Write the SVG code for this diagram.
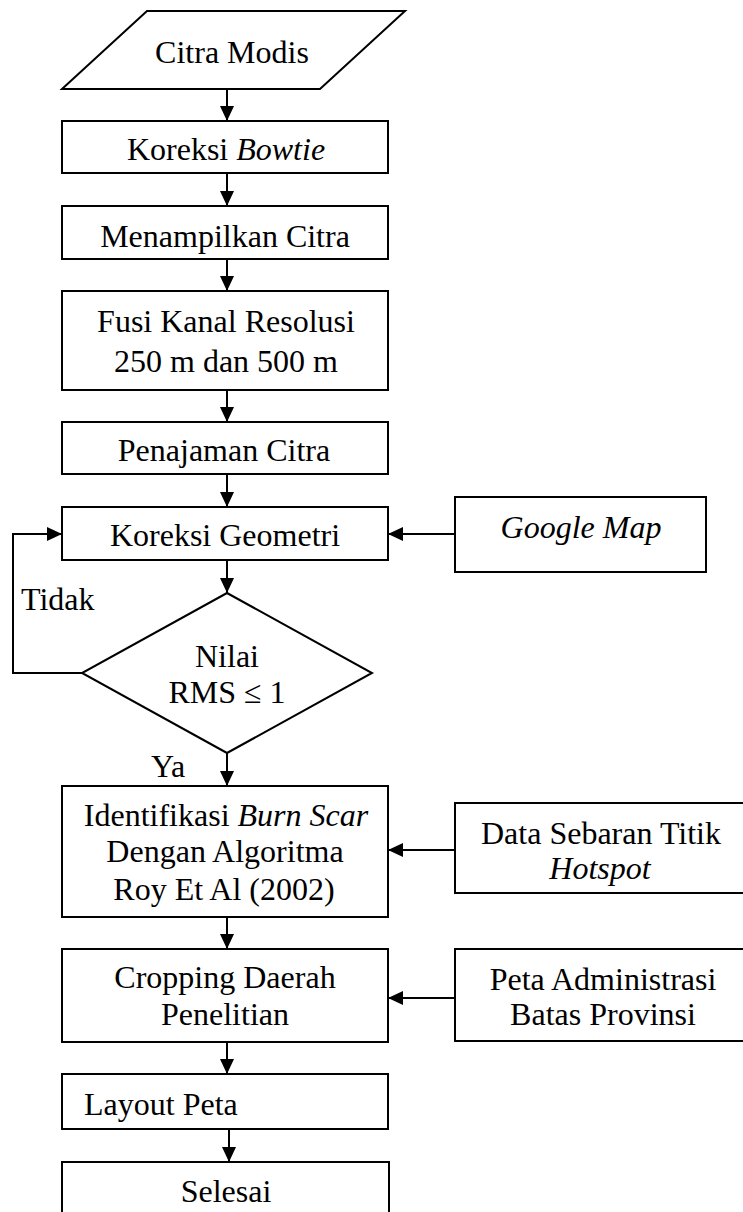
<svg xmlns="http://www.w3.org/2000/svg" width="743" height="1212" viewBox="0 0 743 1212">
<style>
.s{fill:#fff;stroke:#000;stroke-width:2}
.t{font-family:"Liberation Serif","Times New Roman",serif;font-size:32px;fill:#000;text-anchor:middle}
.l{text-anchor:start}
.i{font-style:italic}
.c{fill:none;stroke:#000;stroke-width:2}
</style>
<defs>
<marker id="ah" markerUnits="userSpaceOnUse" markerWidth="16" markerHeight="14" refX="15" refY="7" orient="auto">
<path d="M0,0 L15,7 L0,14 z" fill="#000"/>
</marker>
</defs>
<rect width="743" height="1212" fill="#fff"/>
<g id="connectors">
<line class="c" x1="227" y1="89" x2="227" y2="121" marker-end="url(#ah)"/>
<line class="c" x1="227" y1="173" x2="227" y2="206" marker-end="url(#ah)"/>
<line class="c" x1="227" y1="259" x2="227" y2="291" marker-end="url(#ah)"/>
<line class="c" x1="227" y1="390" x2="227" y2="422" marker-end="url(#ah)"/>
<line class="c" x1="227" y1="474" x2="227" y2="507" marker-end="url(#ah)"/>
<line class="c" x1="227" y1="560" x2="227" y2="593" marker-end="url(#ah)"/>
<line class="c" x1="455" y1="534" x2="388" y2="534" marker-end="url(#ah)"/>
<polyline class="c" points="82,673 13,673 13,534 62,534" marker-end="url(#ah)"/>
<line class="c" x1="227" y1="753" x2="227" y2="786" marker-end="url(#ah)"/>
<line class="c" x1="455" y1="850" x2="388" y2="850" marker-end="url(#ah)"/>
<line class="c" x1="227" y1="917" x2="227" y2="949" marker-end="url(#ah)"/>
<line class="c" x1="455" y1="998" x2="388" y2="998" marker-end="url(#ah)"/>
<line class="c" x1="227" y1="1042" x2="227" y2="1074" marker-end="url(#ah)"/>
<line class="c" x1="229" y1="1129" x2="229" y2="1162" marker-end="url(#ah)"/>
<text class="t l" x="21" y="610">Tidak</text>
<text class="t l" x="151" y="777">Ya</text>
</g>
<g id="citra-modis">
<polygon class="s" points="147,11 405,11 320,89 62,89"/>
<text class="t" x="232" y="63">Citra Modis</text>
</g>
<g id="koreksi-bowtie">
<rect class="s" x="62" y="121" width="326" height="52"/>
<text class="t" x="226" y="160">Koreksi <tspan class="i">Bowtie</tspan></text>
</g>
<g id="menampilkan-citra">
<rect class="s" x="62" y="206" width="326" height="53"/>
<text class="t" x="225" y="247">Menampilkan Citra</text>
</g>
<g id="fusi-kanal">
<rect class="s" x="62" y="291" width="326" height="99"/>
<text class="t" x="226" y="332">Fusi Kanal Resolusi</text>
<text class="t" x="226" y="372">250 m dan 500 m</text>
</g>
<g id="penajaman-citra">
<rect class="s" x="62" y="422" width="326" height="52"/>
<text class="t" x="224" y="461">Penajaman Citra</text>
</g>
<g id="koreksi-geometri">
<rect class="s" x="62" y="507" width="326" height="53"/>
<text class="t" x="225" y="546">Koreksi Geometri</text>
</g>
<g id="google-map">
<rect class="s" x="455" y="497" width="251" height="75"/>
<text class="t i" x="581" y="538">Google Map</text>
</g>
<g id="nilai-rms">
<polygon class="s" points="227,593 372,673 227,753 82,673"/>
<text class="t" x="227" y="667">Nilai</text>
<text class="t" x="227" y="703">RMS ≤ 1</text>
</g>
<g id="identifikasi">
<rect class="s" x="62" y="786" width="326" height="131"/>
<text class="t" x="226" y="826">Identifikasi <tspan class="i">Burn Scar</tspan></text>
<text class="t" x="225" y="862">Dengan Algoritma</text>
<text class="t" x="224" y="900">Roy Et Al (2002)</text>
</g>
<g id="data-hotspot">
<rect class="s" x="455" y="803" width="310" height="90"/>
<text class="t" x="601" y="844">Data Sebaran Titik</text>
<text class="t i" x="600" y="879">Hotspot</text>
</g>
<g id="cropping">
<rect class="s" x="62" y="949" width="326" height="93"/>
<text class="t" x="225" y="988">Cropping Daerah</text>
<text class="t" x="225" y="1025">Penelitian</text>
</g>
<g id="peta-administrasi">
<rect class="s" x="455" y="949" width="310" height="92"/>
<text class="t" x="603" y="990">Peta Administrasi</text>
<text class="t" x="603" y="1025">Batas Provinsi</text>
</g>
<g id="layout-peta">
<rect class="s" x="62" y="1074" width="326" height="55"/>
<text class="t l" x="84" y="1115">Layout Peta</text>
</g>
<g id="selesai">
<rect class="s" x="62" y="1162" width="327" height="70"/>
<text class="t" x="226" y="1202">Selesai</text>
</g>
</svg>
